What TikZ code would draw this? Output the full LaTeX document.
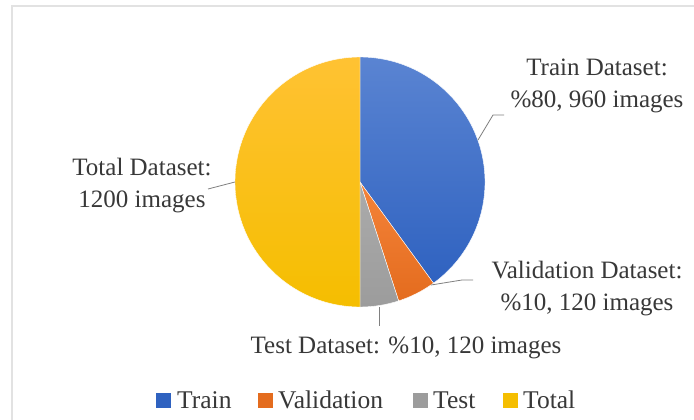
\documentclass[tikz,border=0pt]{standalone}
\usepackage{fontspec}
\setmainfont{Liberation Serif}
\begin{document}
\begin{tikzpicture}[x=1pt,y=1pt]
\definecolor{txt}{HTML}{383838}
\definecolor{trainT}{HTML}{5A84D2}
\definecolor{trainB}{HTML}{2F62C0}
\definecolor{valT}{HTML}{F4833A}
\definecolor{valB}{HTML}{E46C1E}
\definecolor{testT}{HTML}{ABABAB}
\definecolor{testB}{HTML}{9C9C9C}
\definecolor{totT}{HTML}{FFC233}
\definecolor{totB}{HTML}{F5BE00}
\definecolor{framec}{HTML}{E2E2E2}
\definecolor{leader}{HTML}{808080}
\tikzset{
  lbl/.style={align=center, text=txt, font=\fontsize{25}{32}\selectfont, inner sep=0pt},
  legtxt/.style={anchor=west, text=txt, font=\fontsize{25.5}{30}\selectfont, inner sep=0pt},
  leadline/.style={draw=leader, line width=0.8pt},
  slice/.style={draw=white, line width=0.4pt},
  legsq/.style={minimum size=15pt, inner sep=0pt, anchor=center}
}
\useasboundingbox (0,0) rectangle (694,-420);
\fill[white] (0,0) rectangle (694,-420);
\draw[framec, line width=2pt] (11.5,-420) -- (11.5,-6.5) -- (694,-6.5);

\coordinate (c) at (360,-182);
% slices
\shade[slice, top color=trainT, bottom color=trainB]
  (c) -- ++(90:125) arc[start angle=90, end angle=-54, radius=125] -- cycle;
\shade[slice, top color=valT, bottom color=valB]
  (c) -- ++(-54:125) arc[start angle=-54, end angle=-72, radius=125] -- cycle;
\shade[slice, top color=testT, bottom color=testB]
  (c) -- ++(-72:125) arc[start angle=-72, end angle=-90, radius=125] -- cycle;
\shade[slice, top color=totT, bottom color=totB]
  (c) -- ++(-90:125) arc[start angle=-90, end angle=-270, radius=125] -- cycle;

% labels
\node[lbl] (trainlbl) at (597,-86) {Train Dataset:\\\%80, 960 images};
\node[lbl] (vallbl) at (587,-289) {Validation Dataset:\\\%10, 120 images};
\node[lbl] (totlbl) at (142,-186) {Total Dataset:\\1200 images};
\node[lbl] (testlbl) at (406,-348) {Test Dataset: \%10, 120 images};

% leader lines
\coordinate (tr1) at (478,-140);
\coordinate (tr2) at (493,-115);
\coordinate (tr3) at (504,-115);
\draw[leadline] (tr1) -- (tr2) -- (tr3);
\coordinate (va1) at (431,-285);
\coordinate (va2) at (462,-280);
\coordinate (va3) at (473,-280);
\draw[leadline] (va1) -- (va2) -- (va3);
\coordinate (te1) at (379,-307);
\coordinate (te2) at (379,-326);
\draw[leadline] (te1) -- (te2);
\coordinate (to1) at (235,-182);
\coordinate (to2) at (208,-189);
\draw[leadline] (to1) -- (to2);

% legend
\node[legsq, fill=trainB] (sq1) at (163,-400) {};
\node[legtxt] (lg1) at (177,-400) {Train};
\node[legsq, fill=valB] (sq2) at (265,-400) {};
\node[legtxt] (lg2) at (278,-400) {Validation};
\node[legsq, fill=testB] (sq3) at (420.5,-400) {};
\node[legtxt] (lg3) at (433,-400) {Test};
\node[legsq, fill=totB] (sq4) at (510,-400) {};
\node[legtxt] (lg4) at (523,-400) {Total};
\end{tikzpicture}
\end{document}
